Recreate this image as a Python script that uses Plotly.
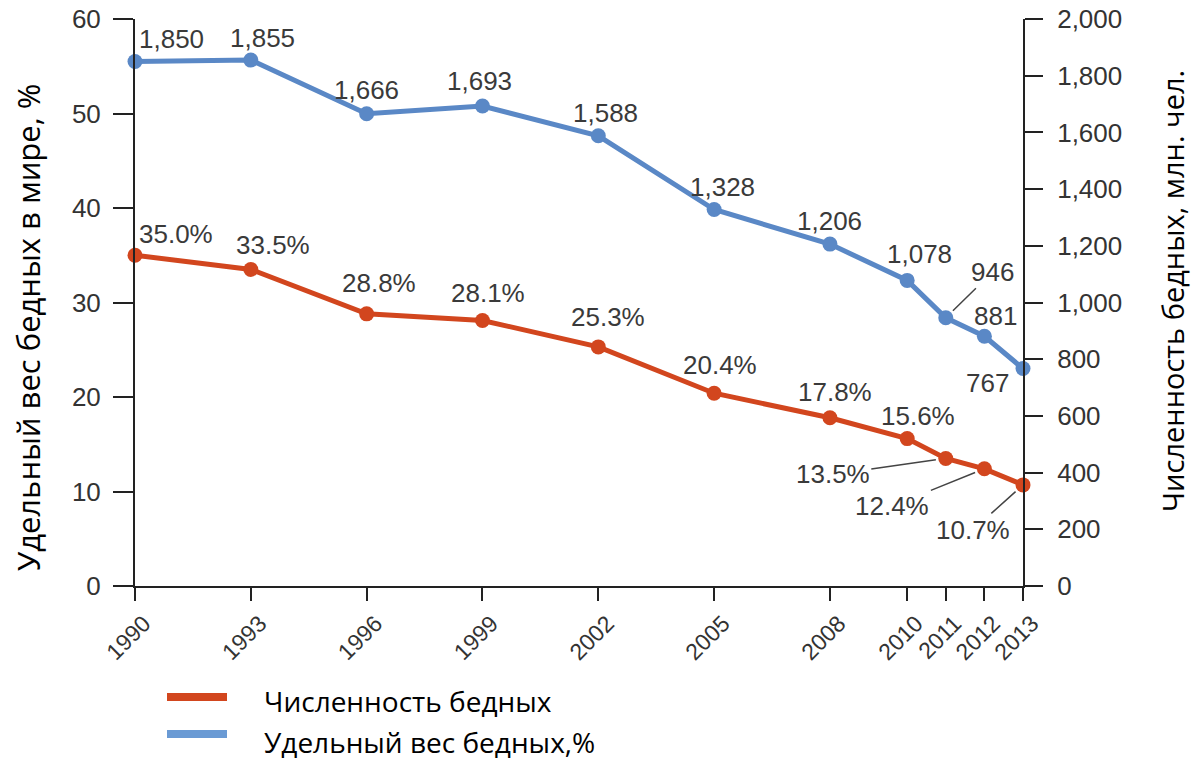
import plotly.graph_objects as go

# ---- data ----
years = [1990, 1993, 1996, 1999, 2002, 2005, 2008, 2010, 2011, 2012, 2013]
poor_count = [1850, 1855, 1666, 1693, 1588, 1328, 1206, 1078, 946, 881, 767]   # млн. чел. (right axis)
poor_share = [35.0, 33.5, 28.8, 28.1, 25.3, 20.4, 17.8, 15.6, 13.5, 12.4, 10.7]  # % (left axis)
year_labels = [str(y) for y in years]
legend_names = ["Численность бедных", "Удельный вес бедных,%"]
left_title = "Удельный вес бедных в мире, %"
right_title = "Численность бедных, млн. чел."

# ---- style / layout ----
W, H = 1194, 762
ML, MR, MT, MB = 135, 171, 19, 176
PW, PH = W - ML - MR, H - MT - MB
RED = "#D2461E"
BLUE = "#5A88C6"
LABEL_COLOR = "#3a3a3a"
NUM_FONT = "Liberation Sans, Arial, sans-serif"
TXT_FONT = "Open Sans, sans-serif"
LBL_SIZE = 26

# label offsets in px (dx, dy: right/down)
blue_off = [(36, -23), (12, -22), (0, -24), (-3, -25), (7, -23), (8, -23), (0, -23),
            (12, -26), (47, -46), (11, -20), (-36, 14)]
blue_leader = [False] * 8 + [True, False, False]
red_off = [(41, -21), (22, -24), (12, -31), (6, -27), (10, -30), (6, -28), (5, -26),
           (11, -23), (-113, 16), (-92, 37), (-50, 45)]
red_leader = [False] * 8 + [True, True, True]


def px(xp):
    return (xp - ML) / PW


def py(yp):
    return (MT + PH - yp) / PH


fig = go.Figure()
fig.add_trace(go.Scatter(
    x=years, y=poor_share, mode="lines+markers", name=legend_names[0],
    line=dict(color=RED, width=5), marker=dict(size=15, color=RED),
    cliponaxis=False, showlegend=False, yaxis="y"))
fig.add_trace(go.Scatter(
    x=years, y=poor_count, mode="lines+markers", name=legend_names[1],
    line=dict(color=BLUE, width=5), marker=dict(size=15, color=BLUE),
    cliponaxis=False, showlegend=False, yaxis="y2"))

annotations = []


def add_labels(values, offsets, leaders, yref, fmt):
    for yr, v, (dx, dy), lead in zip(years, values, offsets, leaders):
        font = dict(family=NUM_FONT, size=LBL_SIZE, color=LABEL_COLOR)
        if lead:
            annotations.append(dict(x=yr, y=v, xref="x", yref=yref, text=fmt(v), showarrow=True,
                                    arrowhead=0, arrowwidth=1.5, arrowcolor="#444",
                                    ax=dx, ay=dy, standoff=10, font=font))
        else:
            annotations.append(dict(x=yr, y=v, xref="x", yref=yref, text=fmt(v), showarrow=False,
                                    xshift=dx, yshift=-dy, font=font))


add_labels(poor_count, blue_off, blue_leader, "y2", lambda v: f"{v:,}")
add_labels(poor_share, red_off, red_leader, "y", lambda v: f"{v:.1f}%")

# axis titles (placed as rotated texts)
annotations.append(dict(xref="paper", yref="paper", x=px(28), y=py(328), text=left_title,
                        textangle=-90, showarrow=False, xanchor="center", yanchor="middle",
                        borderpad=0,
                        font=dict(family=TXT_FONT, size=31, color="black")))
annotations.append(dict(xref="paper", yref="paper", x=px(1172), y=py(291), text=right_title,
                        textangle=-90, showarrow=False, xanchor="center", yanchor="middle",
                        borderpad=0,
                        font=dict(family=TXT_FONT, size=29, color="black")))

# manual legend
shapes = []
for name, color, ly, ty in [(legend_names[0], RED, 697, 701), (legend_names[1], "#6A9AD4", 734, 742)]:
    shapes.append(dict(type="line", xref="paper", yref="paper",
                       x0=px(167), x1=px(227), y0=py(ly), y1=py(ly),
                       line=dict(color=color, width=8)))
    annotations.append(dict(xref="paper", yref="paper", x=px(262), y=py(ty),
                            xanchor="left", yanchor="middle", showarrow=False, text=name,
                            font=dict(family=TXT_FONT, size=28, color="black")))

axis_common = dict(showgrid=False, zeroline=False, showline=True, linecolor="#222",
                   linewidth=2, ticks="outside", tickcolor="#222", tickwidth=2,
                   automargin=False)

fig.update_layout(
    width=W, height=H,
    margin=dict(l=ML, r=MR, t=MT, b=MB),
    paper_bgcolor="white", plot_bgcolor="white",
    showlegend=False,
    xaxis=dict(range=[1990, 2013], tickvals=years, ticktext=year_labels, tickangle=-45,
               ticklen=13, ticklabelshift=9,
               tickfont=dict(family=NUM_FONT, size=23, color="#333"),
               **axis_common),
    yaxis=dict(range=[0, 60], dtick=10, ticklen=20, ticklabelstandoff=7,
               tickfont=dict(family=NUM_FONT, size=LBL_SIZE, color="#333"),
               **axis_common),
    yaxis2=dict(range=[0, 2000], dtick=200, tickformat=",", ticklen=18, overlaying="y",
                side="right", anchor="x", ticklabelstandoff=9,
                tickfont=dict(family=NUM_FONT, size=LBL_SIZE, color="#333"),
                **axis_common),
    annotations=annotations,
    shapes=shapes,
)

fig.write_html("out.html", config={"displayModeBar": False},
               post_script="document.body.style.margin='0';document.body.style.overflow='hidden';")
